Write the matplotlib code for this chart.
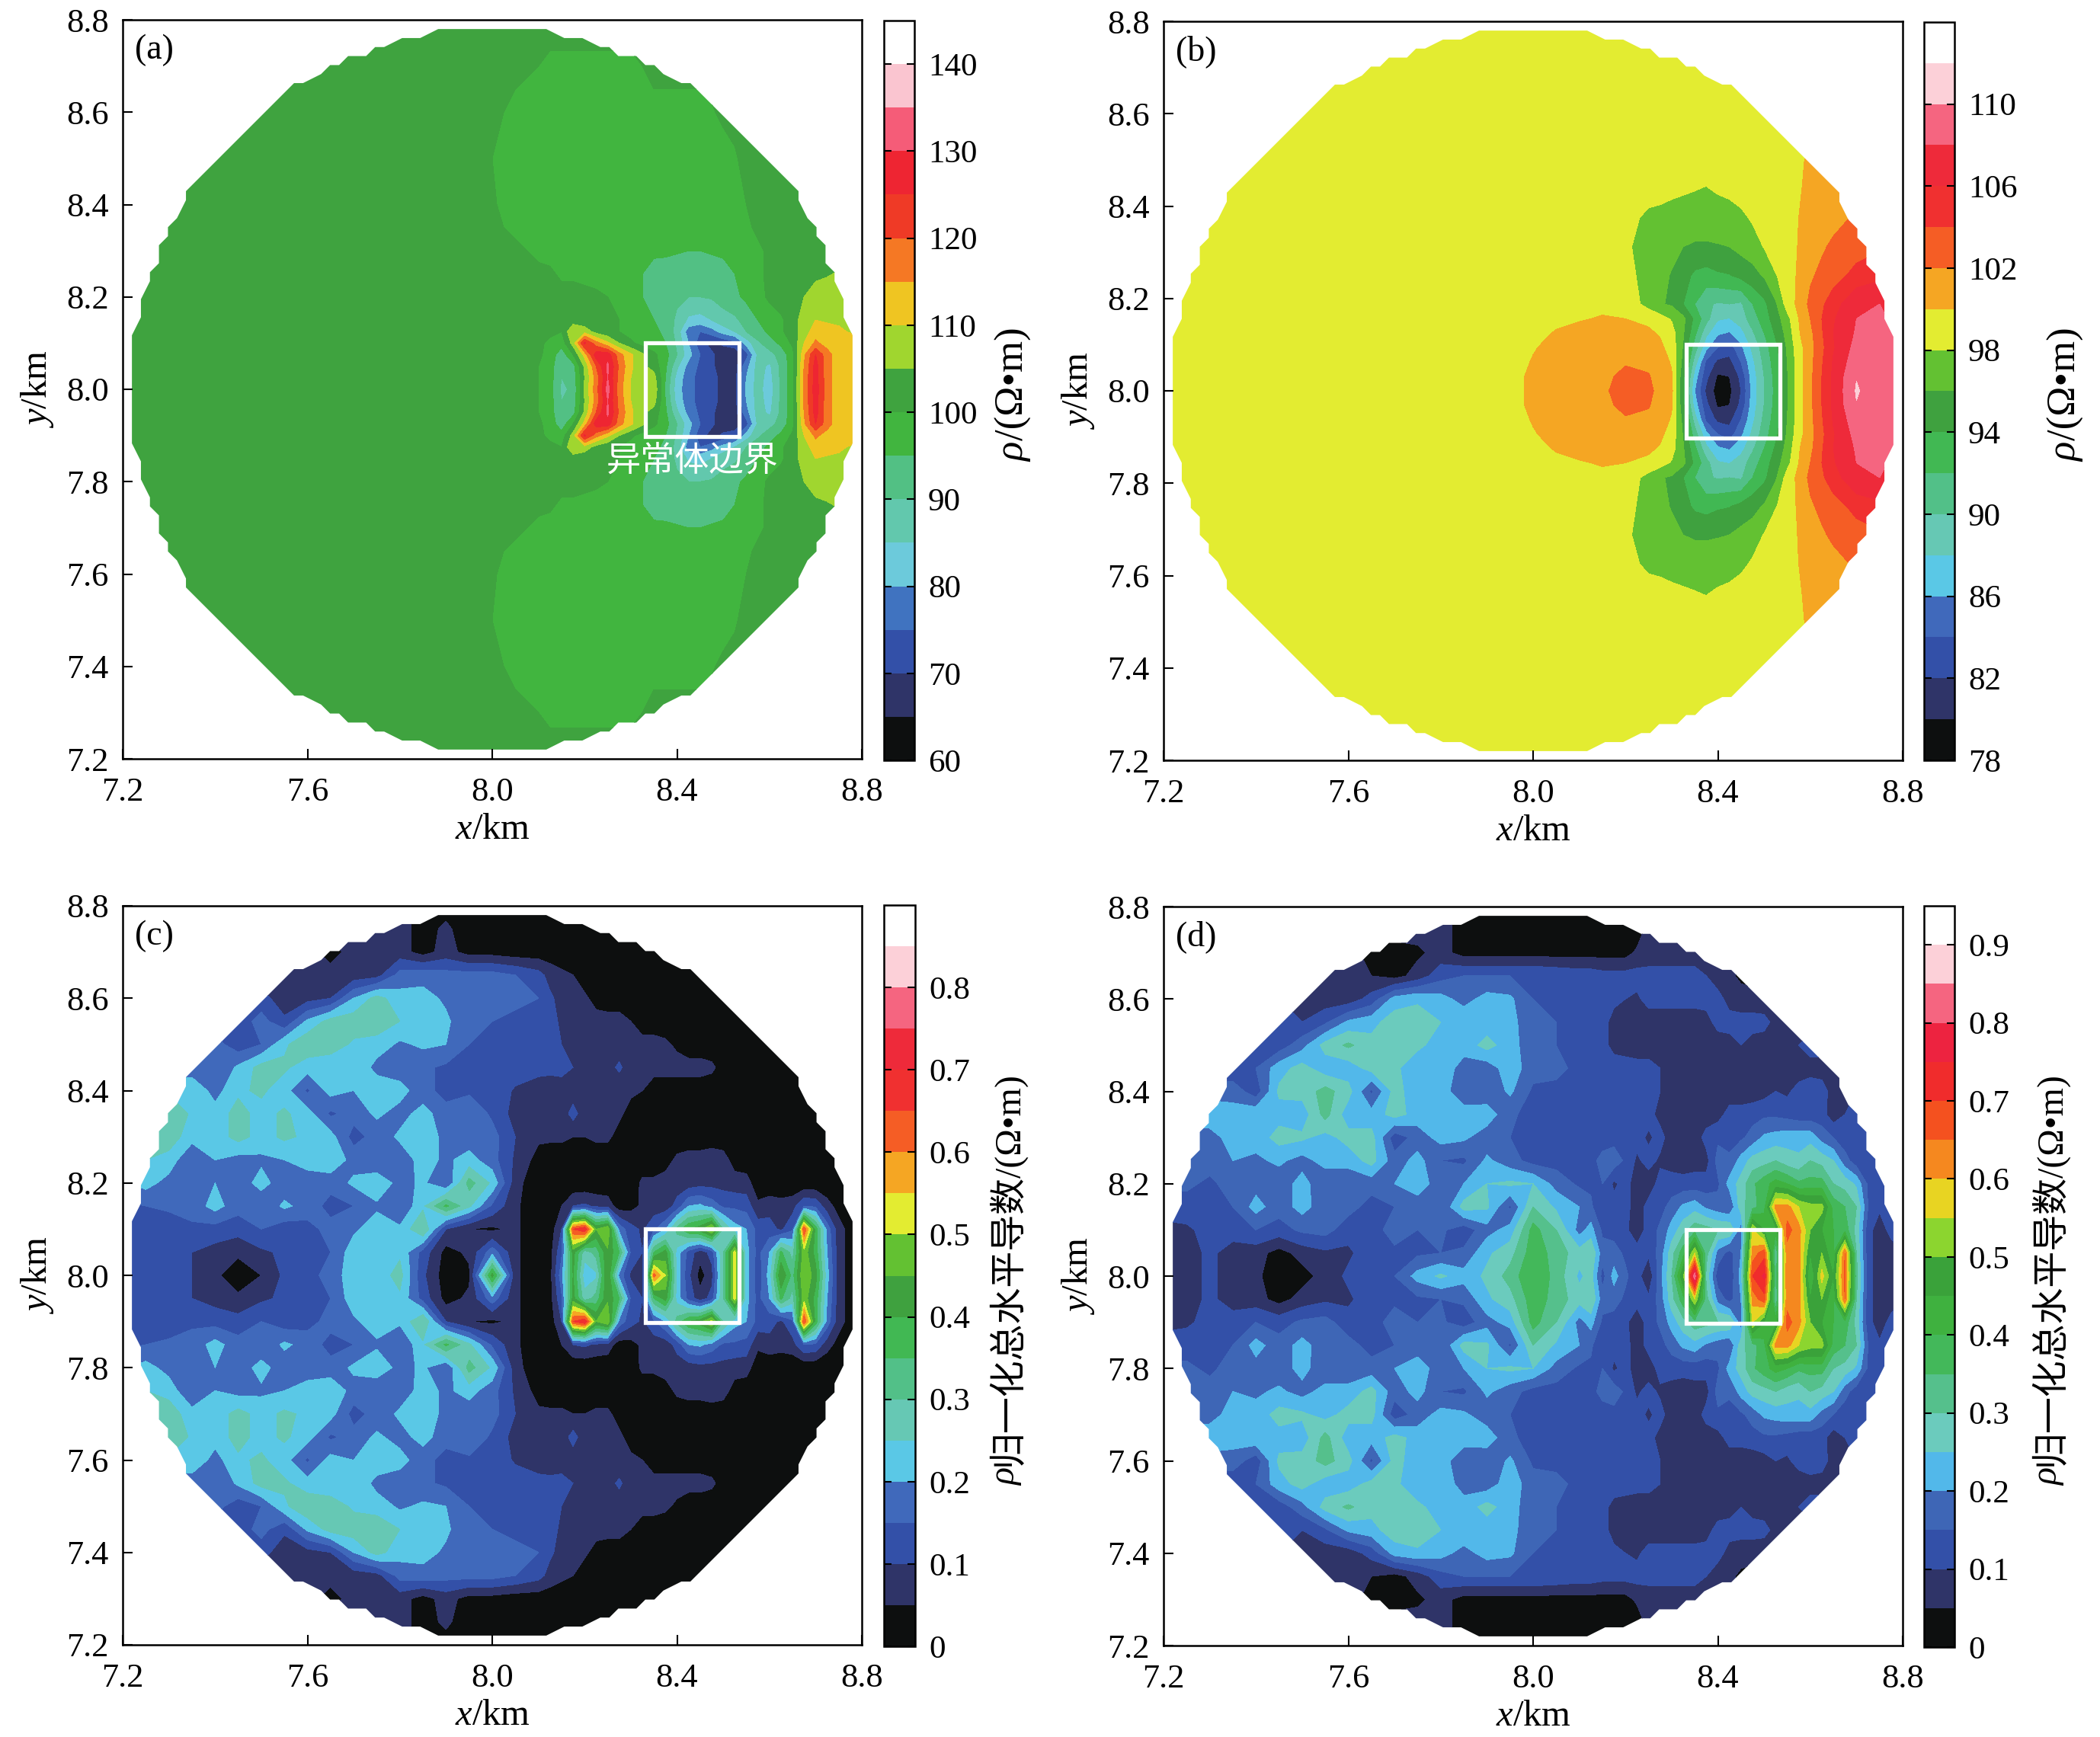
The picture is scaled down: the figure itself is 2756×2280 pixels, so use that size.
import numpy as np
import matplotlib
matplotlib.use("Agg")
import matplotlib.pyplot as plt
from matplotlib.patches import Polygon, Rectangle

plt.rcParams['font.family'] = ['Liberation Serif', 'Noto Sans CJK SC']
plt.rcParams['mathtext.fontset'] = 'custom'
plt.rcParams['mathtext.rm'] = 'Liberation Serif'
plt.rcParams['mathtext.it'] = 'Liberation Serif:italic'

W, H = 2756, 2280

# colour bands, bottom to top
colors_a = ['#0d0f0f', '#2f3468', '#3350a8', '#4073c0', '#6ccadb', '#62c8ad', '#52c084', '#41b53f', '#3fa33f',
            '#a0d62f', '#efc522', '#f57824', '#ef3a26', '#ee2532', '#f55c78', '#fac5d0', '#ffffff']
colors_b = ['#0d0f0f', '#2f3468', '#3350a8', '#4069bb', '#5ac8e6', '#66c8b4', '#52c088', '#41b853', '#3fa13f',
            '#63c132', '#e3ec31', '#f5a623', '#f55d25', '#f03030', '#ee2a3a', '#f56580', '#fcd0d8', '#ffffff']
colors_d = ['#0d0f0f', '#2f3468', '#3350a8', '#3e66b6', '#52b8ea', '#6bcbbd', '#55c08c', '#43b85a', '#3fb13f',
            '#3aa23a', '#8cd52f', '#e8d422', '#f5881f', '#f4511f', '#f02c2c', '#ed2340', '#f56580', '#fcd0d8',
            '#ffffff']
levels_a = np.arange(60, 146, 5)
levels_b = np.arange(78, 115, 2)
levels_c = np.arange(0, 0.91, 0.05)
levels_d = np.arange(0, 0.96, 0.05)
ticks_a = [60, 70, 80, 90, 100, 110, 120, 130, 140]
ticks_b = [78, 82, 86, 90, 94, 98, 102, 106, 110]
ticks_c = [0, 0.1, 0.2, 0.3, 0.4, 0.5, 0.6, 0.7, 0.8]
ticks_d = [0, 0.1, 0.2, 0.3, 0.4, 0.5, 0.6, 0.7, 0.8, 0.9]

# the fields are mirror symmetric about y=8, only the upper half is listed
x_a = [7.2, 7.9, 8.0, 8.05, 8.1, 8.125, 8.15, 8.175, 8.2, 8.225, 8.25, 8.275, 8.3, 8.325, 8.35, 8.375, 8.4,
       8.425, 8.45, 8.475, 8.5, 8.525, 8.55, 8.575, 8.6, 8.625, 8.65, 8.675, 8.7, 8.725, 8.75, 8.8]
y_a = [8.0, 8.025, 8.05, 8.075, 8.1, 8.125, 8.15, 8.2, 8.25, 8.3, 8.35, 8.4, 8.5, 8.6, 8.7, 8.8]
rho_a = [
    [102, 102, 102, 102, 100, 97, 89, 91, 106, 118, 132, 117, 110, 105, 109, 94, 82, 77, 73, 72, 68, 68, 81, 87, 82, 91, 98, 116, 128, 117, 112, 112],
    [102, 102, 102, 102, 100, 97, 90, 92, 105, 117, 130, 118, 110, 105, 107, 95, 83, 77, 73, 72, 68, 68, 80, 87, 83, 91, 98, 116, 127, 117, 112, 112],
    [102, 102, 102, 102, 100, 97, 91, 93, 106, 120, 131, 119, 111, 106, 103, 96, 86, 78, 74, 71, 67, 68, 78, 87, 84, 91, 98, 115, 127, 117, 112, 112],
    [102, 102, 102, 102, 101, 98, 92, 100, 112, 128, 128, 117, 111, 106, 101, 97, 90, 82, 75, 71, 67, 66, 73, 86, 88, 92, 98, 114, 125, 117, 112, 112],
    [102, 102, 102, 102, 101, 99, 97, 107, 126, 117, 111, 105, 101, 98, 97, 95, 89, 80, 72, 68, 71, 73, 82, 89, 93, 96, 101, 110, 116, 113, 112, 112],
    [102, 102, 102, 102, 102, 101, 100, 110, 108, 103, 101, 100, 98, 97, 96, 94, 88, 77, 75, 78, 82, 85, 90, 93, 96, 99, 103, 107, 113, 113, 111, 108],
    [102, 102, 102, 102, 102, 102, 102, 102, 101, 101, 101, 100, 98, 97, 95, 93, 89, 84, 83, 85, 88, 89, 92, 95, 97, 99, 103, 107, 110, 109, 109, 107],
    [102, 102, 102, 102, 102, 102, 102, 102, 102, 101, 100, 99, 97, 95, 94, 92, 91, 90, 90, 90.5, 92, 94, 96, 98, 101, 103, 103, 105, 107, 108, 108, 107],
    [102, 102, 102, 102, 101, 101, 99, 99, 98, 98, 97, 97, 96, 95, 93, 92.5, 92, 92, 92, 92.5, 93, 95, 97, 99, 101, 102, 102, 103, 104, 104.5, 105.5, 104],
    [102, 102, 102, 101, 99, 98, 98, 98, 98, 98, 98, 97, 97, 97, 96, 96, 95.5, 95, 95, 95.5, 96, 97, 98, 99, 101, 102, 102, 102, 103, 103, 103, 103],
    [102, 102, 101, 99, 98, 98, 98, 98, 98, 98, 98, 98, 98, 98, 98, 98, 98, 98, 98, 98, 98, 98, 99, 101, 102, 102, 102, 102, 102, 102, 102, 102],
    [102, 102, 100.5, 98, 98, 98, 98, 98, 98, 98, 98, 98, 98, 98, 98, 98, 98, 98, 98, 98, 98, 98, 100, 102, 102, 102, 102, 102, 102, 102, 102, 102],
    [102, 102, 100, 98, 98, 98, 98, 98, 98, 98, 98, 98, 98, 98, 98, 98, 98, 98, 98, 98, 98, 99.3, 102, 102, 102, 102, 102, 102, 102, 102, 102, 102],
    [102, 102, 102, 98, 98, 98, 98, 98, 98, 98, 98, 98, 98, 98, 98, 98, 98, 98, 98, 99.5, 101, 102, 102, 102, 102, 102, 102, 102, 102, 102, 102, 102],
    [102, 102, 102, 102, 100, 99, 99, 99, 99, 99, 99, 99, 99, 100, 102, 102, 102, 102, 102, 102, 102, 102, 102, 102, 102, 102, 102, 102, 102, 102, 102, 102],
    [102, 102, 102, 102, 102, 102, 102, 102, 102, 102, 102, 102, 102, 102, 102, 102, 102, 102, 102, 102, 102, 102, 102, 102, 102, 102, 102, 102, 102, 102, 102, 102],
]

x_b = [7.2, 7.95, 8.0, 8.05, 8.1, 8.15, 8.2, 8.25, 8.275, 8.3, 8.325, 8.35, 8.375, 8.4, 8.425, 8.45, 8.475, 8.5,
       8.525, 8.55, 8.575, 8.6, 8.625, 8.65, 8.7, 8.75, 8.8]
y_b = [8.0, 8.031, 8.062, 8.094, 8.125, 8.156, 8.188, 8.25, 8.312, 8.375, 8.438, 8.5, 8.625, 8.8]
rho_b = [
    [99, 99.5, 100.3, 101, 101.4, 101.8, 102.5, 102.3, 101.6, 100.5, 94, 86, 81.5, 79, 79.5, 82, 86.8, 90, 92.5, 95.7, 99, 101.6, 104, 106.4, 110.2, 108.8, 108.5],
    [99, 99.5, 100.3, 100.9, 101.3, 101.7, 102.3, 102.1, 101.4, 100.2, 94.5, 87, 82.5, 79.7, 80, 82.5, 87, 90, 92.7, 95.8, 99, 101.5, 104, 106.4, 109.9, 108.8, 108.5],
    [99, 99.4, 100.1, 100.7, 101.1, 101.4, 101.9, 101.7, 101, 99.8, 95.3, 89, 83.5, 81.5, 81.3, 84, 87.5, 90.5, 93, 96, 99, 101.4, 103.8, 106.2, 109.2, 108.6, 108.3],
    [99, 99.3, 99.9, 100.4, 100.8, 101.1, 101.3, 101, 100.4, 99.2, 95.8, 91, 86.5, 84, 83, 85.5, 88.5, 91, 93.5, 96.2, 99.3, 101.2, 103.5, 105.8, 108.7, 108.4, 108],
    [99, 99.2, 99.6, 100.1, 100.4, 100.6, 100.5, 100.3, 99.8, 98.8, 96.2, 92.5, 88.5, 86.3, 85.8, 87.3, 89.7, 92, 94.3, 96.7, 99.8, 101.5, 103.8, 106, 108.2, 108.4, 108],
    [99, 99.1, 99.3, 99.7, 99.9, 100.1, 100, 99.6, 98.8, 97.8, 96.5, 93.5, 90.7, 88.2, 87.9, 89, 91, 93, 95, 97.3, 100, 102, 104, 105.8, 108, 108.2, 107.6],
    [99, 99, 99.1, 99.4, 99.6, 99.7, 99.4, 97.2, 96.2, 95.7, 94, 92, 90.3, 89.8, 90, 89.7, 92, 93.5, 95.7, 98.9, 100.5, 102.5, 103.7, 105, 107.8, 108, 107.5],
    [99, 99, 99, 99, 99.1, 99, 98.5, 97.4, 96.8, 95.8, 94.8, 93.6, 93.2, 93.7, 93.9, 94.6, 95.3, 96.2, 97.9, 98.7, 100.4, 101.7, 102.5, 103.2, 104.6, 105.5, 105],
    [99, 99, 99, 99, 99, 99, 98.3, 97.2, 97, 96.8, 96, 95.8, 95.8, 95.9, 96, 96.6, 97, 98.1, 99, 99.2, 100.1, 100.9, 101.7, 102.4, 103.2, 103.7, 103.5],
    [99, 99, 99, 99, 99, 99, 98.8, 97.5, 97.2, 97, 97, 96.9, 96.8, 96.8, 97, 97.5, 98.3, 99, 99, 99.5, 100, 100.4, 100.9, 101.3, 102.3, 102.5, 102.5],
    [99, 99, 99, 99, 99, 99, 99, 99, 99, 98.6, 98.3, 98.1, 97.9, 98.3, 98.6, 99, 99, 99, 99, 99, 99.8, 100.5, 100.7, 101, 101.2, 101.2, 101.2],
    [99, 99, 99, 99, 99, 99, 99, 99, 99, 99, 99, 99, 99, 99, 99, 99, 99, 99, 99, 99, 99.7, 100.3, 100.5, 100.7, 100.8, 100.8, 100.8],
    [99, 99, 99, 99, 99, 99, 99, 99, 99, 99, 99, 99, 99, 99, 99, 99, 99, 99, 99, 99, 99, 99, 99, 99, 99, 99, 99],
    [99, 99, 99, 99, 99, 99, 99, 99, 99, 99, 99, 99, 99, 99, 99, 99, 99, 99, 99, 99, 99, 99, 99, 99, 99, 99, 99],
]

# panels c and d, listed in units of 0.01
x_cd = [7.2, 7.25, 7.3, 7.35, 7.4, 7.45, 7.5, 7.55, 7.6, 7.65, 7.7, 7.75, 7.8, 7.85, 7.9, 7.95, 8.0, 8.05, 8.1,
        8.125, 8.15, 8.175, 8.2, 8.225, 8.25, 8.275, 8.3, 8.325, 8.35, 8.375, 8.4, 8.425, 8.45, 8.475, 8.5,
        8.525, 8.55, 8.575, 8.6, 8.625, 8.65, 8.675, 8.7, 8.725, 8.75, 8.775, 8.8]
y_cd = [8.0, 8.05, 8.1, 8.15, 8.2, 8.25, 8.3, 8.35, 8.4, 8.45, 8.5, 8.55, 8.6, 8.65, 8.7, 8.75, 8.8]
grad_c = [
    [12, 12, 12, 10, 6, 2, 5, 11, 13, 17, 23, 22, 27, 11, 2, 4, 42, 6, 1, 3, 18, 40, 22, 24, 45, 18, 9, 7, 62, 50, 23, 11, 3, 8, 30, 52, 22, 12, 22, 45, 33, 50, 42, 22, 7, 3, 3],
    [12, 12, 12, 10, 8, 6, 9, 11, 11, 15, 23, 20, 24, 13, 3, 6, 18, 6, 1, 3, 14, 42, 27, 32, 44, 35, 14, 10, 35, 42, 23, 13, 7, 12, 30, 52, 22, 13, 20, 36, 28, 48, 38, 20, 7, 3, 3],
    [13, 13, 12, 14, 13, 12, 15, 12, 13, 17, 19, 23, 21, 30, 10, 5, 4, 6, 1, 2, 10, 65, 70, 45, 50, 18, 12, 9, 14, 20, 32, 40, 43, 52, 30, 22, 20, 13, 12, 9, 14, 65, 38, 18, 7, 3, 3],
    [14, 15, 16, 17, 22, 17, 16, 21, 18, 13, 15, 19, 15, 24, 36, 26, 14, 6, 1, 1, 5, 10, 11, 9, 8, 2, 3, 6, 7, 7, 12, 20, 21, 18, 14, 14, 13, 6, 8, 7, 8, 15, 14, 7, 3, 2, 2],
    [19, 22, 18, 16, 20, 17, 22, 17, 15, 17, 21, 24, 18, 21, 15, 32, 24, 7, 1, 1, 1, 1, 1, 1, 1, 1, 2, 6, 6, 7, 7, 7, 8, 8, 8, 7, 7, 2, 1, 1, 1, 1, 1, 1, 1, 1, 1],
    [25, 25, 23, 15, 20, 18, 19, 20, 24, 24, 18, 15, 17, 22, 19, 22, 17, 9, 3, 2, 2, 2, 2, 2, 2, 2, 2, 2, 2, 3, 6, 7, 7, 8, 7, 3, 2, 2, 2, 2, 2, 2, 2, 2, 2, 2, 2],
    [28, 28, 28, 22, 22, 27, 23, 26, 24, 22, 13, 17, 21, 24, 18, 17, 17, 10, 6, 6, 6, 5, 5, 6, 6, 3, 2, 2, 2, 2, 2, 2, 2, 2, 2, 2, 2, 2, 2, 2, 2, 2, 2, 2, 2, 2, 2],
    [30, 30, 30, 24, 22, 27, 23, 26, 22, 14, 17, 21, 18, 22, 17, 19, 14, 8, 8, 8, 7, 12, 7, 7, 7, 6, 3, 2, 2, 2, 2, 2, 2, 2, 2, 2, 2, 2, 2, 2, 2, 2, 2, 2, 2, 2, 2],
    [24, 24, 24, 24, 18, 24, 26, 22, 14, 22, 20, 24, 22, 17, 13, 14, 15, 9, 7, 8, 7, 7, 7, 7, 7, 6, 6, 5, 2, 2, 2, 2, 2, 2, 2, 2, 2, 2, 2, 2, 2, 2, 2, 2, 2, 2, 2],
    [17, 17, 17, 17, 15, 21, 27, 26, 22, 21, 25, 18, 17, 16, 14, 13, 13, 14, 12, 11, 12, 10, 8, 8, 8, 11, 7, 7, 7, 7, 7, 7, 7, 6, 3, 2, 2, 2, 2, 2, 2, 2, 2, 2, 2, 2, 2],
    [17, 17, 17, 17, 17, 12, 15, 24, 29, 28, 24, 23, 19, 21, 20, 15, 14, 14, 13, 11, 10, 9, 8, 7, 7, 7, 7, 7, 7, 6, 4, 2, 2, 2, 2, 2, 2, 2, 2, 2, 2, 2, 2, 2, 2, 2, 2],
    [12, 12, 12, 12, 12, 12, 17, 11, 21, 27, 28, 28, 25, 21, 21, 16, 15, 14, 13, 12, 9, 8, 7, 7, 7, 7, 5, 2, 2, 2, 2, 2, 2, 2, 2, 2, 2, 2, 2, 2, 2, 2, 2, 2, 2, 2, 2],
    [12, 12, 12, 12, 12, 12, 12, 7, 8, 10, 20, 27, 22, 22, 19, 16, 16, 16, 15, 11, 8, 7, 6, 3, 2, 2, 2, 2, 2, 2, 2, 2, 2, 2, 2, 2, 2, 2, 2, 2, 2, 2, 2, 2, 2, 2, 2],
    [7, 7, 7, 7, 7, 7, 7, 7, 7, 7, 7, 8, 17, 18, 17, 17, 17, 15, 12, 8, 6, 5, 2, 2, 2, 2, 2, 2, 2, 2, 2, 2, 2, 2, 2, 2, 2, 2, 2, 2, 2, 2, 2, 2, 2, 2, 2],
    [7, 7, 7, 7, 7, 7, 7, 7, 7, 3, 7, 7, 7, 3, 7, 3, 3, 2, 2, 2, 2, 2, 2, 2, 2, 2, 2, 2, 2, 2, 2, 2, 2, 2, 2, 2, 2, 2, 2, 2, 2, 2, 2, 2, 2, 2, 2],
    [7, 7, 7, 7, 7, 7, 7, 7, 7, 7, 7, 7, 7, 3, 6, 2, 2, 2, 2, 2, 2, 2, 2, 2, 2, 2, 2, 2, 2, 2, 2, 2, 2, 2, 2, 2, 2, 2, 2, 2, 2, 2, 2, 2, 2, 2, 2],
    [7, 7, 7, 7, 7, 7, 7, 7, 7, 7, 7, 7, 7, 3, 3, 2, 2, 2, 2, 2, 2, 2, 2, 2, 2, 2, 2, 2, 2, 2, 2, 2, 2, 2, 2, 2, 2, 2, 2, 2, 2, 2, 2, 2, 2, 2, 2],
]
grad_d = [
    [8, 8, 11, 8, 6, 2, 3, 7, 11, 13, 15, 22, 26, 22, 26, 32, 40, 33, 24, 27, 13, 22, 16, 12, 6, 18, 30, 50, 84, 28, 12, 11, 22, 70, 76, 33, 63, 63, 39, 57, 45, 66, 32, 12, 7, 7, 7],
    [8, 8, 11, 8, 7, 3, 7, 9, 9, 13, 14, 14, 15, 16, 24, 28, 38, 33, 27, 30, 17, 17, 14, 12, 11, 17, 28, 38, 55, 32, 18, 13, 20, 62, 68, 30, 63, 62, 45, 50, 40, 65, 30, 12, 7, 7, 10],
    [8, 9, 12, 12, 15, 13, 16, 17, 12, 13, 17, 15, 16, 12, 18, 22, 37, 30, 18, 22, 14, 13, 11, 7, 12, 16, 22, 28, 33, 32, 30, 30, 17, 55, 45, 42, 67, 62, 50, 45, 40, 38, 28, 12, 7, 12, 12],
    [13, 13, 13, 15, 22, 17, 22, 17, 17, 13, 15, 17, 15, 27, 26, 14, 30, 24, 20, 16, 10, 12, 12, 7, 12, 13, 17, 21, 23, 19, 17, 15, 28, 33, 38, 62, 62, 55, 52, 52, 38, 35, 30, 15, 11, 12, 12],
    [16, 16, 14, 17, 18, 17, 22, 16, 16, 17, 20, 23, 17, 20, 25, 26, 25, 18, 14, 14, 15, 9, 12, 7, 7, 12, 12, 12, 12, 12, 14, 22, 27, 34, 38, 42, 40, 36, 37, 37, 30, 28, 24, 14, 12, 12, 12],
    [18, 18, 17, 20, 19, 21, 18, 22, 22, 27, 17, 22, 15, 14, 21, 17, 13, 13, 14, 13, 17, 18, 14, 9, 12, 9, 8, 7, 8, 8, 17, 16, 22, 27, 28, 30, 27, 26, 30, 28, 25, 17, 12, 11, 12, 12, 12],
    [18, 18, 18, 22, 22, 27, 26, 23, 27, 27, 12, 17, 22, 21, 17, 15, 13, 12, 14, 12, 12, 13, 12, 12, 9, 12, 7, 7, 7, 12, 14, 13, 14, 17, 21, 22, 23, 23, 23, 18, 15, 12, 12, 11, 12, 12, 12],
    [23, 23, 23, 22, 24, 23, 22, 32, 22, 22, 27, 23, 22, 22, 23, 16, 13, 13, 13, 12, 12, 12, 12, 12, 12, 8, 7, 7, 7, 7, 8, 12, 12, 13, 14, 14, 13, 12, 12, 12, 7, 10, 12, 12, 12, 12, 12],
    [18, 18, 18, 18, 12, 26, 27, 32, 27, 14, 27, 22, 22, 17, 16, 21, 14, 14, 12, 12, 12, 12, 12, 12, 12, 10, 7, 7, 7, 7, 7, 7, 7, 7, 8, 10, 9, 12, 13, 12, 8, 8, 10, 12, 12, 12, 12],
    [11, 11, 11, 11, 15, 23, 27, 22, 22, 27, 26, 22, 23, 18, 17, 23, 17, 16, 14, 13, 13, 13, 13, 12, 12, 10, 8, 7, 7, 7, 7, 7, 7, 7, 7, 7, 7, 7, 8, 8, 7, 7, 8, 10, 12, 12, 12],
    [12, 12, 12, 12, 12, 12, 18, 27, 31, 27, 27, 26, 23, 22, 27, 22, 17, 15, 14, 13, 12, 8, 7, 7, 7, 7, 7, 7, 7, 7, 7, 8, 10, 8, 7, 7, 7, 10, 12, 12, 12, 12, 12, 12, 12, 12, 12],
    [11, 11, 11, 11, 11, 11, 10, 14, 21, 23, 28, 28, 25, 24, 22, 22, 16, 15, 14, 13, 13, 7, 7, 7, 7, 7, 7, 7, 7, 8, 12, 12, 12, 12, 12, 8, 7, 4, 8, 10, 12, 12, 12, 12, 12, 12, 12],
    [10, 10, 10, 10, 10, 10, 10, 7, 7, 12, 22, 24, 22, 18, 22, 21, 15, 15, 14, 14, 13, 12, 10, 9, 12, 12, 12, 12, 12, 12, 12, 8, 7, 7, 6, 7, 7, 7, 7, 8, 10, 10, 12, 12, 12, 12, 12],
    [8, 8, 8, 8, 8, 8, 8, 8, 7, 5, 3, 7, 13, 15, 15, 15, 15, 14, 13, 13, 12, 12, 12, 12, 12, 12, 12, 12, 12, 10, 7, 6, 4, 3, 3, 3, 7, 7, 7, 7, 7, 7, 7, 7, 7, 7, 7],
    [7, 7, 7, 7, 7, 7, 7, 7, 7, 3, 3, 4, 7, 3, 3, 3, 3, 3, 3, 3, 3, 3, 3, 6, 7, 7, 7, 7, 7, 7, 7, 7, 7, 7, 7, 7, 7, 7, 7, 7, 7, 7, 7, 7, 7, 7, 7],
    [7, 7, 7, 7, 7, 7, 7, 7, 7, 7, 7, 7, 7, 3, 2, 2, 2, 2, 2, 2, 2, 2, 2, 2, 7, 7, 7, 7, 7, 7, 7, 7, 7, 7, 7, 7, 7, 7, 7, 7, 7, 7, 7, 7, 7, 7, 7],
    [7, 7, 7, 7, 7, 7, 7, 7, 7, 7, 7, 7, 7, 3, 2, 2, 2, 2, 2, 2, 2, 2, 2, 2, 7, 7, 7, 7, 7, 7, 7, 7, 7, 7, 7, 7, 7, 7, 7, 7, 7, 7, 7, 7, 7, 7, 7],
]


def stair_outline(r=0.78, step=0.0195, n=180):
    # jagged edge of the computed disc, flat runs joined by slanted bits
    t = (np.arange(n) + 0.5) * 2 * np.pi / n
    px = np.round(r * np.cos(t) / step) * step + 8.0
    py = np.round(r * np.sin(t) / step) * step + 8.0
    return np.column_stack([px, py])


def px_axes(left, top, right, bottom):
    return fig.add_axes([left / W, 1 - bottom / H, (right - left) / W, (bottom - top) / H])


def rho_label(x, y, text, size):
    # italic rho, then the upright rest of the rotated label
    fig.text(x / W, 1 - y / H, 'ρ', rotation=90, ha='center', va='bottom', fontsize=size,
             family='Liberation Serif', style='italic')
    fig.text(x / W, 1 - (y - size * 0.75) / H, text, rotation=90, ha='center', va='bottom', fontsize=size,
             family=['Liberation Serif', 'Noto Sans CJK SC'])


def panel(box, cbox, x, y, z, levels, colors, ticks, letter, label_at, label, label_size):
    ax = px_axes(*box)
    x = np.array(x)
    y = np.array(y)
    z = np.array(z, dtype=float)
    yy = np.r_[16.0 - y[:0:-1], y]
    zz = np.vstack([z[:0:-1], z])
    cs = ax.contourf(x, yy, zz, levels=levels, colors=colors)
    cs.set_clip_path(Polygon(stair_outline(), closed=True, transform=ax.transData))
    ax.add_patch(Rectangle((8.332, 7.898), 0.202, 0.202, fill=False, ec='white', lw=3.8, zorder=5))
    ax.set_xlim(7.2, 8.8)
    ax.set_ylim(7.2, 8.8)
    ax.set_xticks([7.2, 7.6, 8.0, 8.4, 8.8])
    ax.set_xticklabels(['7.2', '7.6', '8.0', '8.4', '8.8'])
    ax.set_yticks([7.2, 7.4, 7.6, 7.8, 8.0, 8.2, 8.4, 8.6, 8.8])
    ax.set_yticklabels(['7.2', '7.4', '7.6', '7.8', '8.0', '8.2', '8.4', '8.6', '8.8'])
    ax.tick_params(direction='in', length=9.5, width=1.5, labelsize=32)
    ax.tick_params(axis='x', pad=17)
    ax.tick_params(axis='y', pad=13)
    ax.set_xlabel('$x$/km', fontsize=35, labelpad=5)
    ax.set_ylabel('$y$/km', fontsize=35, labelpad=10)
    for s in ax.spines.values():
        s.set_linewidth(1.8)
    ax.text(7.226, 8.735, letter, fontsize=33, va='center', ha='left')

    cax = px_axes(*cbox)
    cb = fig.colorbar(cs, cax=cax, ticks=ticks)
    cb.set_ticklabels([f'{t:g}' for t in ticks])
    cb.outline.set_linewidth(1.8)
    cax.minorticks_off()
    cax.tick_params(direction='in', length=7.5, width=1.5, labelsize=31, pad=13,
                    left=True, right=True, labelleft=False, labelright=True)
    rho_label(label_at[0], label_at[1], label, label_size)
    return ax


fig = plt.figure(figsize=(W / 100, H / 100), dpi=100, facecolor='white')

ax_a = panel((161, 26, 1131, 996), (1160, 27, 1200, 998), x_a, y_a, rho_a, levels_a, colors_a, ticks_a,
             '(a)', (1330, 606), '/(Ω•m)', 38)
panel((1527, 28, 2497, 998), (2525, 29, 2565, 998), x_b, y_b, rho_b, levels_b, colors_b, ticks_b,
      '(b)', (2711, 606), '/(Ω•m)', 38)
panel((161, 1189, 1131, 2159), (1160, 1188, 1201, 2161), x_cd, y_cd, np.array(grad_c) / 100, levels_c, colors_b,
      ticks_c, '(c)', (1320, 1950), '归一化总水平导数/(Ω•m)', 34.5)
panel((1527, 1190, 2497, 2160), (2525, 1189, 2565, 2162), x_cd, y_cd, np.array(grad_d) / 100, levels_d, colors_d,
      ticks_d, '(d)', (2688, 1950), '归一化总水平导数/(Ω•m)', 34.5)

ax_a.text(8.433, 7.845, '异常体边界', color='white', fontsize=32.5, ha='center', va='center', zorder=6,
          family='Noto Sans CJK SC')

fig.savefig('out.png', dpi=100)
